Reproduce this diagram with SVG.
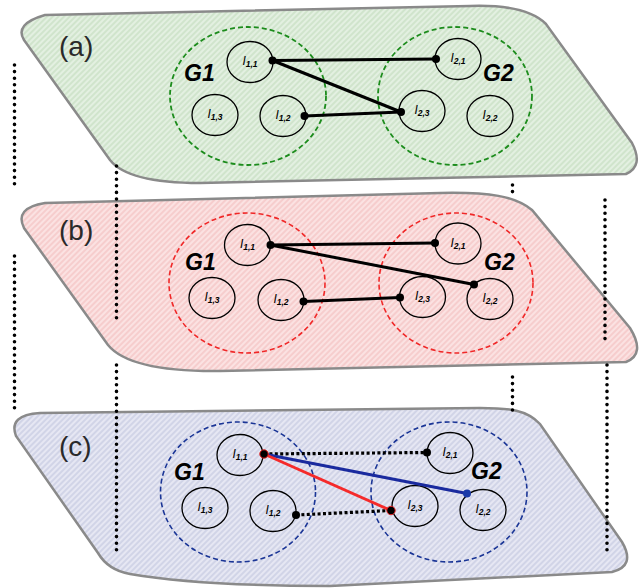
<svg xmlns="http://www.w3.org/2000/svg" width="642" height="588" viewBox="0 0 642 588">
<style>
.panel{stroke:#8a8a8a;stroke-width:2.5}
.lbl{font-family:"Liberation Sans",Arial,sans-serif;font-size:28px;fill:#2a2a2a}
.g{font-family:"Liberation Sans",Arial,sans-serif;font-size:23px;font-weight:bold;font-style:italic;fill:#000}
.node{fill:none;stroke:#000;stroke-width:1.3}
.nt{font-family:"Liberation Sans",Arial,sans-serif;font-size:12px;font-style:italic;fill:#000;text-anchor:middle}
.sub{font-size:8.5px;font-weight:bold}
.grpA{fill:none;stroke:#1c8c1c;stroke-width:1.8;stroke-dasharray:5 3}
.grpB{fill:none;stroke:#f02828;stroke-width:1.6;stroke-dasharray:5 3}
.grpC{fill:none;stroke:#1a3596;stroke-width:1.6;stroke-dasharray:5 3}
.edge{stroke:#000;stroke-width:3;fill:none}
.dot{stroke:#000;stroke-width:3.2;stroke-dasharray:3 2.4;fill:none}
.vdot{stroke:#000;stroke-width:3.6;stroke-dasharray:0 6.6;stroke-linecap:round;fill:none}
</style>
<defs>
<pattern id="hg" width="4" height="4" patternUnits="userSpaceOnUse" patternTransform="rotate(45)"><rect width="4" height="4" fill="#e3f0e1"/><line x1="1" y1="0" x2="1" y2="4" stroke="#c8e0c4" stroke-width="1.4"/></pattern>
<pattern id="hp" width="4" height="4" patternUnits="userSpaceOnUse" patternTransform="rotate(45)"><rect width="4" height="4" fill="#fbe2e2"/><line x1="1" y1="0" x2="1" y2="4" stroke="#f4c4c4" stroke-width="1.4"/></pattern>
<pattern id="hb" width="4" height="4" patternUnits="userSpaceOnUse" patternTransform="rotate(45)"><rect width="4" height="4" fill="#e6e7f3"/><line x1="1" y1="0" x2="1" y2="4" stroke="#c9cce2" stroke-width="1.4"/></pattern>
</defs>

<g id="panels">
<path id="panel-a" class="panel" fill="url(#hg)" d="M24,40 Q14,24 45,15 L470,6 C500,5 530,8 546,24 L632,143 Q644,166 626,174 L200,183 Q128,183 110,160 Z"/>
<path id="panel-b" class="panel" fill="url(#hp)" d="M24,228 Q14,208 45,203 L440,193 C490,192 515,196 532,210 L630,328 Q646,354 626,362 L220,371 Q130,372 108,345 Z"/>
<path id="panel-c" class="panel" fill="url(#hb)" d="M16,436 Q8,415 40,413 L480,408 C510,408 527,410 540,424 L622,542 Q636,566 612,572 L330,586 Q200,586 130,574 Q108,570 98,553 Z"/>
</g>

<g id="guides">
<line class="vdot" x1="14.5" y1="65" x2="14.5" y2="189"/>
<line class="vdot" x1="14.5" y1="256" x2="14.5" y2="413"/>
<line class="vdot" x1="116.5" y1="166" x2="116.5" y2="324"/>
<line class="vdot" x1="116.5" y1="365" x2="116.5" y2="554"/>
<line class="vdot" x1="512.5" y1="185" x2="512.5" y2="198"/>
<line class="vdot" x1="512.5" y1="377" x2="512.5" y2="412"/>
<line class="vdot" x1="605" y1="200" x2="605" y2="340"/>
<line class="vdot" x1="607" y1="365" x2="607" y2="555"/>
</g>

<g id="labels">
<text class="lbl" x="59" y="56">(a)</text>
<text class="lbl" x="59" y="240">(b)</text>
<text class="lbl" x="59" y="456">(c)</text>
</g>

<g id="groups">
<ellipse id="a-G1" class="grpA" cx="248" cy="96" rx="78" ry="69"/>
<ellipse id="a-G2" class="grpA" cx="455" cy="96" rx="77" ry="69"/>
<text class="g" x="184" y="81">G1</text>
<text class="g" x="483" y="81">G2</text>
<ellipse id="b-G1" class="grpB" cx="247" cy="283" rx="78" ry="70"/>
<ellipse id="b-G2" class="grpB" cx="456" cy="283" rx="77" ry="70"/>
<text class="g" x="185" y="270">G1</text>
<text class="g" x="484" y="270">G2</text>
<ellipse id="c-G1" class="grpC" cx="238" cy="492" rx="77.5" ry="70"/>
<ellipse id="c-G2" class="grpC" cx="449" cy="492" rx="78" ry="70"/>
<text class="g" x="174" y="480">G1</text>
<text class="g" x="471" y="479">G2</text>
</g>

<g id="nodes-a">
<g id="a-I11"><ellipse class="node" cx="250" cy="62" rx="23" ry="20.5"/><text class="nt" x="250" y="65">I<tspan class="sub" dy="2">1,1</tspan></text></g>
<g id="a-I13"><ellipse class="node" cx="215" cy="115" rx="23" ry="20.5"/><text class="nt" x="215" y="118">I<tspan class="sub" dy="2">1,3</tspan></text></g>
<g id="a-I12"><ellipse class="node" cx="283" cy="116" rx="23" ry="20.5"/><text class="nt" x="283" y="119">I<tspan class="sub" dy="2">1,2</tspan></text></g>
<g id="a-I21"><ellipse class="node" cx="458" cy="59" rx="23" ry="20.5"/><text class="nt" x="458" y="62">I<tspan class="sub" dy="2">2,1</tspan></text></g>
<g id="a-I23"><ellipse class="node" cx="422" cy="111" rx="23" ry="20.5"/><text class="nt" x="422" y="114">I<tspan class="sub" dy="2">2,3</tspan></text></g>
<g id="a-I22"><ellipse class="node" cx="490" cy="116" rx="23" ry="20.5"/><text class="nt" x="490" y="119">I<tspan class="sub" dy="2">2,2</tspan></text></g>
</g>

<g id="nodes-b">
<g id="b-I11"><ellipse class="node" cx="247.5" cy="245" rx="23" ry="20.5"/><text class="nt" x="247.5" y="248">I<tspan class="sub" dy="2">1,1</tspan></text></g>
<g id="b-I13"><ellipse class="node" cx="212" cy="298" rx="23" ry="20.5"/><text class="nt" x="212" y="301">I<tspan class="sub" dy="2">1,3</tspan></text></g>
<g id="b-I12"><ellipse class="node" cx="281" cy="300" rx="23" ry="20.5"/><text class="nt" x="281" y="303">I<tspan class="sub" dy="2">1,2</tspan></text></g>
<g id="b-I21"><ellipse class="node" cx="458" cy="243.5" rx="23" ry="20.5"/><text class="nt" x="458" y="246.5">I<tspan class="sub" dy="2">2,1</tspan></text></g>
<g id="b-I23"><ellipse class="node" cx="422.5" cy="297" rx="23" ry="20.5"/><text class="nt" x="422.5" y="300">I<tspan class="sub" dy="2">2,3</tspan></text></g>
<g id="b-I22"><ellipse class="node" cx="490" cy="299" rx="23" ry="20.5"/><text class="nt" x="490" y="302">I<tspan class="sub" dy="2">2,2</tspan></text></g>
</g>

<g id="nodes-c">
<g id="c-I11"><ellipse class="node" cx="240" cy="455" rx="23" ry="20.5"/><text class="nt" x="240" y="458">I<tspan class="sub" dy="2">1,1</tspan></text></g>
<g id="c-I13"><ellipse class="node" cx="205" cy="508" rx="23" ry="20.5"/><text class="nt" x="205" y="511">I<tspan class="sub" dy="2">1,3</tspan></text></g>
<g id="c-I12"><ellipse class="node" cx="273" cy="511" rx="23" ry="20.5"/><text class="nt" x="273" y="514">I<tspan class="sub" dy="2">1,2</tspan></text></g>
<g id="c-I21"><ellipse class="node" cx="450" cy="453" rx="23" ry="20.5"/><text class="nt" x="450" y="456">I<tspan class="sub" dy="2">2,1</tspan></text></g>
<g id="c-I23"><ellipse class="node" cx="415" cy="506" rx="23" ry="20.5"/><text class="nt" x="415" y="509">I<tspan class="sub" dy="2">2,3</tspan></text></g>
<g id="c-I22"><ellipse class="node" cx="483" cy="510" rx="23" ry="20.5"/><text class="nt" x="483" y="513">I<tspan class="sub" dy="2">2,2</tspan></text></g>
</g>

<g id="connectors">
<line class="edge" x1="272.5" y1="60.5" x2="436" y2="59"/>
<line class="edge" x1="272.5" y1="60.5" x2="401" y2="112"/>
<line class="edge" x1="304.5" y1="116" x2="401" y2="112"/>
<circle cx="272.5" cy="60.5" r="4"/><circle cx="436" cy="59" r="4"/><circle cx="401" cy="112" r="4"/><circle cx="304.5" cy="116" r="4"/>

<line class="edge" x1="270.5" y1="245" x2="435" y2="243"/>
<line class="edge" x1="270.5" y1="245" x2="474" y2="284.5"/>
<line class="edge" x1="303.5" y1="301.5" x2="400" y2="297.5"/>
<circle cx="270.5" cy="245" r="4"/><circle cx="435" cy="243" r="4"/><circle cx="474" cy="284.5" r="4"/><circle cx="303.5" cy="301.5" r="4"/><circle cx="400" cy="297.5" r="4"/>

<line class="dot" x1="264" y1="454" x2="427" y2="452.5"/>
<line class="dot" x1="296" y1="515" x2="391" y2="510.5"/>
<line stroke="#1a2a9e" stroke-width="3" x1="264" y1="454" x2="467" y2="493.5"/>
<line stroke="#f52a2a" stroke-width="3" x1="264" y1="454" x2="391" y2="510.5"/>
<circle cx="264" cy="454" r="4.2" fill="#000" stroke="#e52020" stroke-width="1"/>
<circle cx="427" cy="452.5" r="4"/>
<circle cx="296" cy="515" r="4"/>
<circle cx="391" cy="510.5" r="4.2" fill="#000" stroke="#e52020" stroke-width="1"/>
<circle cx="467" cy="493.5" r="4" fill="#1a3aa8"/>
</g>
</svg>
